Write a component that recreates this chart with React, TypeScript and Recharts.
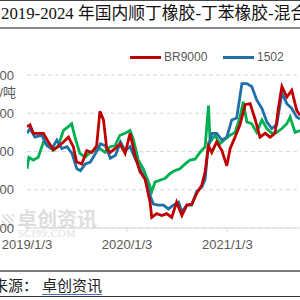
import React from "react";
import { LineChart, Line, XAxis, YAxis, CartesianGrid } from "recharts";

// days since 2019/1/3
const redDays = [0,11,23,41,60,78,96,114,133,151,169,181,200,218,236,254,266,279,291,303,321,339,358,376,394,412,431,449,455,473,492,510,528,546,565,583,601,619,638,650,662,674,692,711,729,741,759,777,796,814,832,850,869,887,905,917,930,948,966,984,996];
const redPrice = [13300,13400,12950,12950,12950,12500,12100,12250,12500,12750,12250,11450,11350,12050,11950,12300,14100,13650,12150,11950,12150,12400,11900,12950,11800,10950,10550,9350,8550,8750,8650,8750,8550,9350,8650,9200,9250,9800,10250,10950,12300,11950,12500,12050,11250,12150,12750,13400,14450,14500,13700,12750,12950,12750,12950,14250,15400,14850,15200,14150,13900];

const blueDays = [0,11,29,54,73,91,109,127,146,164,182,195,213,231,250,268,286,304,323,341,358,376,394,412,431,449,461,479,498,516,534,553,565,583,601,619,638,650,660,674,692,711,729,747,765,784,802,820,838,857,875,893,911,930,948,966,984,996];
const bluePrice = [12950,13200,12750,12850,12300,12150,12600,12150,12250,11900,11100,11000,11350,11450,11900,12400,12300,11650,11800,12500,12050,12250,11650,11100,10550,9700,9250,9200,9200,9000,9200,9350,8850,9200,9200,9900,10150,10550,12150,12950,12950,12600,12750,13650,13750,15550,15550,15400,14700,14250,13550,13200,13400,15050,14500,14250,13800,13700];

const greenDays = [0,7,23,41,60,78,96,114,133,151,163,175,193,212,230,248,266,285,303,321,339,358,376,388,406,424,443,455,467,485,504,522,540,558,577,595,613,631,650,662,668,686,704,723,741,759,777,789,802,820,838,857,875,893,911,930,948,960,978,996];
const greenPrice = [11100,11700,11550,11700,12500,12300,12050,12300,13100,13300,13450,12750,11900,11700,11950,12050,12150,11950,12250,12300,12850,12950,13100,12650,11550,11100,10400,9900,10400,10500,10600,10850,11000,11100,11350,11550,11600,11950,12250,14400,12500,12850,12400,12650,12850,13000,13800,14600,13550,13450,13000,13650,13200,12950,13000,13200,13450,13800,13000,13100];

const seriesNames = ["BR9000", "1502", "混合胶"];
const seriesColors = ["#C00000", "#1F6FAB", "#00B050"];
const xTicks = [0, 365, 731];
const xTickLabels = ["2019/1/3", "2020/1/3", "2021/1/3"];
const yTicks = [8000, 10000, 12000, 14000, 16000];

const redData = redDays.map((d, i) => ({ d, v: redPrice[i] }));
const blueData = blueDays.map((d, i) => ({ d, v: bluePrice[i] }));
const greenData = greenDays.map((d, i) => ({ d, v: greenPrice[i] }));

const sans = "'Liberation Sans', Arial, 'Noto Sans CJK SC', sans-serif";
const serif = "'Liberation Serif', 'Noto Sans CJK SC', serif";

export default function App() {
  return (
    <div style={{ position: "fixed", left: 0, top: 0, width: 300, height: 300, overflow: "hidden", background: "#fff" }}>
      {/* title */}
      <div style={{ position: "absolute", left: 0, top: 0, width: 300, height: 26, borderTop: "1.5px solid #444", borderBottom: "2.5px solid #8a8a8a", boxSizing: "content-box" }}>
        <div style={{ position: "absolute", left: 1, top: 4, whiteSpace: "nowrap", fontFamily: serif, fontSize: 16.8, color: "#111", lineHeight: "18px" }}>
          2019-2024 年国内顺丁橡胶-丁苯橡胶-混合胶价格走势
        </div>
      </div>
      {/* watermark */}
      <div style={{ position: "absolute", left: 17, top: 209, fontFamily: serif, fontSize: 20, color: "#dedede", whiteSpace: "nowrap", lineHeight: "22px", fontWeight: "bold" }}>卓创资讯</div>
      <div style={{ position: "absolute", left: 18, top: 228, fontFamily: serif, fontSize: 10.5, color: "#dedede", whiteSpace: "nowrap", lineHeight: "11px", letterSpacing: 0.5 }}>SCI99.COM</div>
      <div style={{ position: "absolute", left: 2, top: 214, width: 12, height: 14, background: "repeating-linear-gradient(45deg,#e2e2e2 0 2px,#fff 2px 4px)" }} />
      {/* unit */}
      <div style={{ position: "absolute", right: 284, top: 85, fontFamily: sans, fontSize: 13, color: "#595959", whiteSpace: "nowrap", lineHeight: "15px" }}>元/吨</div>
      {/* legend */}
      {seriesNames.map((n, i) => (
        <div key={n} style={{ position: "absolute", left: 130 + i * 93, top: 50, display: "flex", alignItems: "center", whiteSpace: "nowrap" }}>
          <div style={{ width: 31, height: 3, background: seriesColors[i], marginRight: 3 }} />
          <span style={{ fontFamily: sans, fontSize: 12, color: "#595959", lineHeight: "15px" }}>{n}</span>
        </div>
      ))}
      <div style={{ position: "absolute", left: 0, top: 0 }}>
        <LineChart width={300} height={300} margin={{ top: 75, right: 0, bottom: 0, left: 0 }}>
          <CartesianGrid vertical={false} stroke="#d9d9d9" strokeDasharray="4 3" />
          <XAxis
            dataKey="d"
            type="number"
            domain={[0, 996]}
            ticks={xTicks}
            allowDataOverflow
            height={72}
            tickFormatter={(v: number) => xTickLabels[xTicks.indexOf(v)] ?? ""}
            tick={{ fill: "#595959", fontSize: 13, fontFamily: sans }}
            stroke="#d9d9d9"
            tickSize={4}
            tickMargin={8}
            interval={0}
          />
          <YAxis
            type="number"
            domain={[8000, 16000]}
            ticks={yTicks}
            width={27}
            axisLine={false}
            tickLine={false}
            tickSize={0}
            tickMargin={13}
            tick={{ fill: "#595959", fontSize: 13, fontFamily: sans }}
          />
          <Line data={greenData} dataKey="v" stroke={seriesColors[2]} strokeWidth={2.8} dot={false} isAnimationActive={false} />
          <Line data={blueData} dataKey="v" stroke={seriesColors[1]} strokeWidth={2.8} dot={false} isAnimationActive={false} />
          <Line data={redData} dataKey="v" stroke={seriesColors[0]} strokeWidth={2.8} dot={false} isAnimationActive={false} />
        </LineChart>
      </div>
      {/* footer */}
      <div style={{ position: "absolute", left: 0, top: 270, width: 300, height: 24, borderTop: "2px solid #7a7a7a", borderBottom: "1.5px solid #333" }}>
        <div style={{ position: "absolute", left: -7, top: 6, whiteSpace: "nowrap", fontFamily: serif, fontSize: 15, color: "#222", lineHeight: "17px" }}>
          来源：<span style={{ marginLeft: 4, textDecoration: "underline", textDecorationColor: "#4472C4", textUnderlineOffset: 3 }}>卓创资讯</span>
        </div>
      </div>
    </div>
  );
}
